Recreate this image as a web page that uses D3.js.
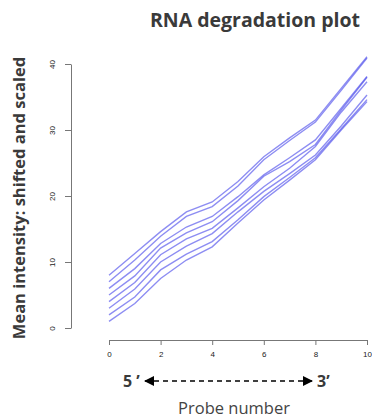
<!DOCTYPE html>
<html>
<head>
<meta charset="utf-8">
<script src="https://cdn.jsdelivr.net/npm/d3@7"></script>
<style>
  body { margin: 0; background: #fff; }
  svg { display: block; }
</style>
</head>
<body>
<svg id="chart" width="372" height="419"></svg>
<script>
// probe positions and the eight arrays (one per sample), shifted by 1 each
const probes = [0, 1, 2, 3, 4, 5, 6, 7, 8, 9, 10];
const sample1 = [1, 3.7, 7.5, 10.3, 12.3, 15.9, 19.4, 22.4, 25.5, 30.0, 34.3];
const sample2 = [2, 4.7, 8.8, 11.2, 13.1, 16.4, 19.9, 22.8, 25.8, 30.2, 34.6];
const sample3 = [3, 5.9, 10.0, 12.4, 14.3, 17.6, 20.7, 23.4, 26.2, 30.6, 35.3];
const sample4 = [4, 6.9, 11.1, 13.5, 15.1, 18.2, 21.4, 24.2, 27.5, 32.7, 37.3];
const sample5 = [5, 7.9, 12.1, 14.4, 16.1, 19.3, 23.0, 25.2, 27.8, 33.0, 38.0];
const sample6 = [6, 9.0, 12.8, 15.3, 16.9, 19.9, 23.2, 25.8, 28.5, 33.3, 38.1];
const sample7 = [7, 10.3, 13.9, 16.9, 18.4, 21.5, 25.5, 28.4, 31.2, 36.0, 40.9];
const sample8 = [8, 11.3, 14.6, 17.6, 19.1, 22.2, 25.95, 28.8, 31.5, 36.3, 41.1];
const samples = [sample1, sample2, sample3, sample4, sample5, sample6, sample7, sample8];
const xTicks = [0, 2, 4, 6, 8, 10];
const yTicks = [0, 10, 20, 30, 40];

const svg = d3.select("#chart");

const x = d3.scaleLinear().domain([0, 10]).range([109, 367]);
const y = d3.scaleLinear().domain([0, 40]).range([328, 64]);

// x axis
const xAxis = svg.append("g")
  .attr("transform", "translate(0,340)")
  .call(d3.axisBottom(x).tickValues(xTicks).tickSize(5).tickSizeOuter(0).tickPadding(6));
xAxis.select(".domain").attr("stroke", "#777");
xAxis.selectAll(".tick line").attr("stroke", "#777");
xAxis.selectAll(".tick text")
  .attr("font-family", "Liberation Sans, Arial, sans-serif")
  .attr("font-size", 8)
  .attr("fill", "#222");

// y axis
const yAxis = svg.append("g")
  .attr("transform", "translate(71,0)")
  .call(d3.axisLeft(y).tickValues(yTicks).tickSize(6).tickSizeOuter(0));
yAxis.select(".domain").attr("stroke", "#777");
yAxis.selectAll(".tick line").attr("stroke", "#777");
yAxis.selectAll(".tick text")
  .attr("x", null).attr("dy", null)
  .attr("transform", "translate(-18,0) rotate(-90)")
  .attr("text-anchor", "middle")
  .attr("dominant-baseline", "middle")
  .attr("font-family", "Liberation Sans, Arial, sans-serif")
  .attr("font-size", 8)
  .attr("fill", "#222");

// lines
const line = d3.line()
  .x((d, i) => x(probes[i]))
  .y(d => y(d));

svg.append("g")
  .selectAll("path")
  .data(samples)
  .join("path")
  .attr("d", line)
  .attr("fill", "none")
  .attr("stroke", "rgb(80,80,235)")
  .attr("stroke-opacity", 0.65)
  .attr("stroke-width", 1.4);

// title
svg.append("text")
  .attr("x", 255).attr("y", 27)
  .attr("text-anchor", "middle")
  .attr("font-family", "Open Sans, sans-serif")
  .attr("font-weight", "bold")
  .attr("font-size", 19.5)
  .attr("fill", "#3a3a3a")
  .text("RNA degradation plot");

// y label
svg.append("text")
  .attr("transform", "translate(25,198) rotate(-90)")
  .attr("text-anchor", "middle")
  .attr("font-family", "Open Sans, sans-serif")
  .attr("font-weight", "bold")
  .attr("font-size", 16.5)
  .attr("fill", "#3a3a3a")
  .text("Mean intensity: shifted and scaled");

// 5' -> 3' arrow
svg.append("defs").html(`
  <marker id="ah" viewBox="0 0 10 10" refX="9" refY="5" markerWidth="10" markerHeight="10" markerUnits="userSpaceOnUse" orient="auto-start-reverse">
    <path d="M0,0 L10,5 L0,10 Z" fill="#000"/>
  </marker>`);
svg.append("line")
  .attr("x1", 145).attr("x2", 312)
  .attr("y1", 381).attr("y2", 381)
  .attr("stroke", "#000")
  .attr("stroke-width", 1.6)
  .attr("stroke-dasharray", "5,4")
  .attr("marker-start", "url(#ah)")
  .attr("marker-end", "url(#ah)");
svg.append("text")
  .attr("x", 123).attr("y", 387)
  .attr("font-family", "Open Sans, sans-serif")
  .attr("font-weight", "bold")
  .attr("font-size", 16)
  .attr("fill", "#3a3a3a")
  .text("5 \u2019");
svg.append("text")
  .attr("x", 317).attr("y", 387)
  .attr("font-family", "Open Sans, sans-serif")
  .attr("font-weight", "bold")
  .attr("font-size", 16)
  .attr("fill", "#3a3a3a")
  .text("3\u2019");

// x label
svg.append("text")
  .attr("x", 234).attr("y", 414)
  .attr("text-anchor", "middle")
  .attr("font-family", "Open Sans, sans-serif")
  .attr("font-size", 16.5)
  .attr("fill", "#444")
  .text("Probe number");
</script>
</body>
</html>
